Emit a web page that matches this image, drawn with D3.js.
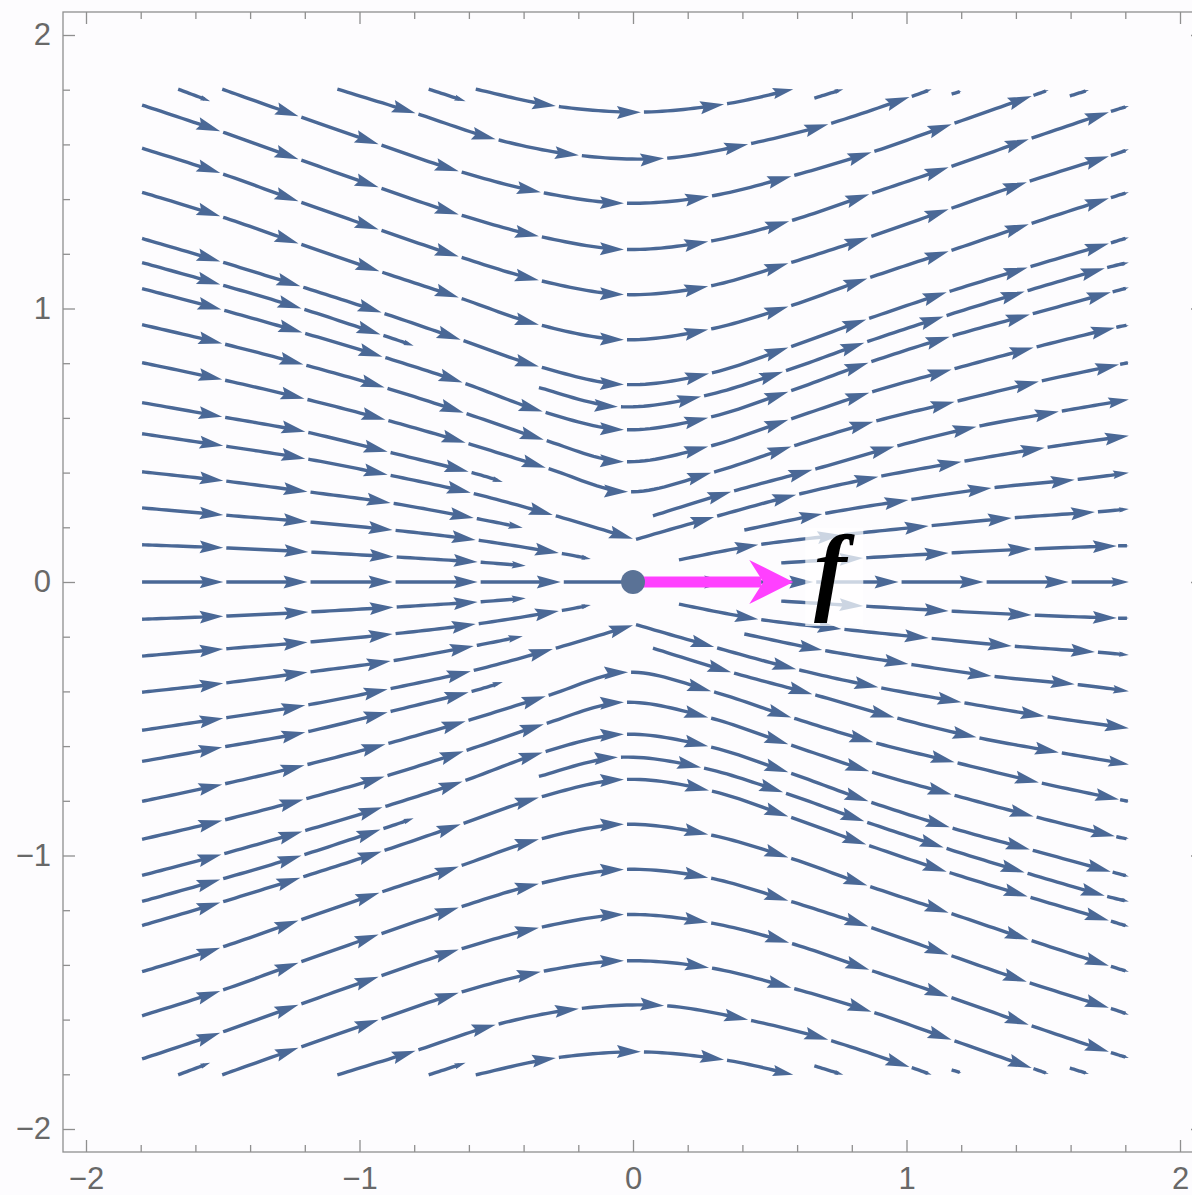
<!DOCTYPE html>
<html>
<head>
<meta charset="utf-8">
<script src="https://cdn.jsdelivr.net/npm/d3@7"></script>
<style>
  html, body { margin: 0; padding: 0; background: #fdfcfe; }
  svg { display: block; }
</style>
</head>
<body>
<div id="chart"></div>
<script>
// --- Data ---
const xTicks = [-2, -1, 0, 1, 2];
const yTicks = [-2, -1, 0, 1, 2];
const tickLabels = ['\u22122', '\u22121', '0', '1', '2'];

// Streamlines as [x, y]: start point, every arrow tip along the line, end point
const upperStreams = [
  [[-1.663, 1.802], [-1.546, 1.758]],
  [[-1.502, 1.802], [-1.223, 1.703], [-0.930, 1.601], [-0.637, 1.502], [-0.337, 1.425], [-0.033, 1.385], [0.278, 1.410], [0.579, 1.484], [0.872, 1.571], [1.165, 1.674], [1.458, 1.777], [1.520, 1.799]],
  [[-1.081, 1.802], [-0.795, 1.714], [-0.502, 1.619], [-0.198, 1.560], [0.114, 1.549], [0.421, 1.601], [0.714, 1.674], [1.011, 1.773], [1.092, 1.802]],
  [[-0.747, 1.802], [-0.612, 1.758]],
  [[-0.575, 1.802], [-0.282, 1.740], [0.029, 1.718], [0.333, 1.747], [0.586, 1.802]],
  [[0.663, 1.769], [0.769, 1.802]],
  [[1.165, 1.784], [1.201, 1.795]],
  [[1.597, 1.777], [1.667, 1.799]],
  [[-1.795, 1.744], [-1.509, 1.648], [-1.223, 1.546], [-0.930, 1.443], [-0.637, 1.344], [-0.344, 1.264], [-0.033, 1.216], [0.275, 1.245], [0.571, 1.319], [0.864, 1.418], [1.154, 1.516], [1.447, 1.619], [1.740, 1.718], [1.813, 1.740]],
  [[-1.795, 1.586], [-1.509, 1.495], [-1.223, 1.392], [-0.930, 1.289], [-0.637, 1.190], [-0.344, 1.103], [-0.033, 1.051], [0.275, 1.081], [0.568, 1.165], [0.861, 1.260], [1.154, 1.363], [1.440, 1.462], [1.740, 1.557], [1.813, 1.582]],
  [[-1.795, 1.425], [-1.509, 1.337], [-1.223, 1.238], [-0.927, 1.136], [-0.637, 1.040], [-0.344, 0.941], [-0.033, 0.886], [0.275, 0.923], [0.568, 1.007], [0.857, 1.110], [1.154, 1.209], [1.447, 1.308], [1.740, 1.403], [1.813, 1.425]],
  [[-1.795, 1.256], [-1.509, 1.172], [-1.216, 1.081], [-0.919, 0.985], [-0.630, 0.886], [-0.344, 0.788], [-0.033, 0.722], [0.278, 0.762], [0.568, 0.857], [0.853, 0.960], [1.147, 1.059], [1.443, 1.150], [1.740, 1.238], [1.813, 1.260]],
  [[-1.795, 1.168], [-1.509, 1.088], [-1.212, 1.000], [-0.923, 0.905], [-0.802, 0.864]],
  [[-0.344, 0.711], [-0.055, 0.641], [0.249, 0.678], [0.549, 0.769], [0.846, 0.875], [1.136, 0.971], [1.432, 1.062], [1.725, 1.147], [1.813, 1.168]],
  [[-1.795, 1.073], [-1.505, 0.996], [-1.209, 0.912], [-0.916, 0.824], [-0.623, 0.729], [-0.330, 0.623], [-0.033, 0.557], [0.275, 0.601], [0.568, 0.696], [0.861, 0.802], [1.158, 0.897], [1.451, 0.978], [1.747, 1.059], [1.813, 1.077]],
  [[-1.795, 0.941], [-1.502, 0.872], [-1.205, 0.795], [-0.908, 0.711], [-0.619, 0.619], [-0.326, 0.520], [-0.033, 0.440], [0.275, 0.495], [0.568, 0.593], [0.864, 0.692], [1.165, 0.777], [1.465, 0.857], [1.762, 0.930], [1.813, 0.938]],
  [[-1.795, 0.802], [-1.502, 0.740], [-1.201, 0.670], [-0.905, 0.593], [-0.612, 0.509], [-0.319, 0.418], [-0.018, 0.330], [0.286, 0.399], [0.579, 0.495], [0.879, 0.586], [1.176, 0.659], [1.484, 0.733], [1.777, 0.795], [1.813, 0.802]],
  [[-1.795, 0.656], [-1.502, 0.604], [-1.198, 0.549], [-0.897, 0.476], [-0.601, 0.403], [-0.476, 0.366]],
  [[-1.795, 0.542], [-1.498, 0.498], [-1.198, 0.451], [-0.897, 0.392], [-0.593, 0.326], [-0.293, 0.245], [0.000, 0.158]],
  [[0.011, 0.156], [0.297, 0.238], [0.597, 0.319], [0.897, 0.385], [1.201, 0.440], [1.505, 0.491], [1.813, 0.535]],
  [[-1.795, 0.403], [-1.498, 0.370], [-1.190, 0.330], [-0.886, 0.289], [-0.582, 0.234], [-0.403, 0.198]],
  [[-1.795, 0.271], [-1.498, 0.245], [-1.190, 0.220], [-0.879, 0.190], [-0.575, 0.154], [-0.271, 0.106], [-0.154, 0.084]],
  [[-1.795, 0.136], [-1.498, 0.125], [-1.187, 0.110], [-0.875, 0.092], [-0.568, 0.073], [-0.392, 0.059]],
  [[0.073, 0.242], [0.359, 0.330], [0.656, 0.410], [0.956, 0.495], [1.256, 0.568], [1.557, 0.623], [1.813, 0.667]],
  [[0.168, 0.081], [0.458, 0.136], [0.762, 0.172], [1.081, 0.205], [1.385, 0.234], [1.689, 0.256], [1.813, 0.267]],
  [[0.407, 0.190], [0.692, 0.249], [1.007, 0.300], [1.311, 0.344], [1.615, 0.374], [1.813, 0.399]],
  [[0.542, 0.070], [0.842, 0.088], [1.154, 0.106], [1.458, 0.121], [1.769, 0.132], [1.813, 0.132]]
];

const lowerStreams = [
  [[-1.663, -1.802], [-1.546, -1.758]],
  [[-1.502, -1.802], [-1.223, -1.703], [-0.930, -1.601], [-0.637, -1.502], [-0.337, -1.425], [-0.033, -1.385], [0.278, -1.410], [0.579, -1.484], [0.872, -1.571], [1.165, -1.674], [1.458, -1.777], [1.520, -1.799]],
  [[-1.081, -1.802], [-0.795, -1.714], [-0.502, -1.619], [-0.198, -1.560], [0.114, -1.549], [0.421, -1.601], [0.714, -1.674], [1.011, -1.773], [1.092, -1.802]],
  [[-0.747, -1.802], [-0.612, -1.758]],
  [[-0.575, -1.802], [-0.282, -1.740], [0.029, -1.718], [0.333, -1.747], [0.586, -1.802]],
  [[0.663, -1.769], [0.769, -1.802]],
  [[1.165, -1.784], [1.201, -1.795]],
  [[1.597, -1.777], [1.667, -1.799]],
  [[-1.795, -1.744], [-1.509, -1.648], [-1.223, -1.546], [-0.930, -1.443], [-0.637, -1.344], [-0.344, -1.264], [-0.033, -1.216], [0.275, -1.245], [0.571, -1.319], [0.864, -1.418], [1.154, -1.516], [1.447, -1.619], [1.740, -1.718], [1.813, -1.740]],
  [[-1.795, -1.586], [-1.509, -1.495], [-1.223, -1.392], [-0.930, -1.289], [-0.637, -1.190], [-0.344, -1.103], [-0.033, -1.051], [0.275, -1.081], [0.568, -1.165], [0.861, -1.260], [1.154, -1.363], [1.440, -1.462], [1.740, -1.557], [1.813, -1.582]],
  [[-1.795, -1.425], [-1.509, -1.337], [-1.223, -1.238], [-0.927, -1.136], [-0.637, -1.040], [-0.344, -0.941], [-0.033, -0.886], [0.275, -0.923], [0.568, -1.007], [0.857, -1.110], [1.154, -1.209], [1.447, -1.308], [1.740, -1.403], [1.813, -1.425]],
  [[-1.795, -1.256], [-1.509, -1.172], [-1.216, -1.081], [-0.919, -0.985], [-0.630, -0.886], [-0.344, -0.788], [-0.033, -0.722], [0.278, -0.762], [0.568, -0.857], [0.853, -0.960], [1.147, -1.059], [1.443, -1.150], [1.740, -1.238], [1.813, -1.260]],
  [[-1.795, -1.168], [-1.509, -1.088], [-1.212, -1.000], [-0.923, -0.905], [-0.802, -0.864]],
  [[-0.344, -0.711], [-0.055, -0.641], [0.249, -0.678], [0.549, -0.769], [0.846, -0.875], [1.136, -0.971], [1.432, -1.062], [1.725, -1.147], [1.813, -1.168]],
  [[-1.795, -1.073], [-1.505, -0.996], [-1.209, -0.912], [-0.916, -0.824], [-0.623, -0.729], [-0.330, -0.623], [-0.033, -0.557], [0.275, -0.601], [0.568, -0.696], [0.861, -0.802], [1.158, -0.897], [1.451, -0.978], [1.747, -1.059], [1.813, -1.077]],
  [[-1.795, -0.941], [-1.502, -0.872], [-1.205, -0.795], [-0.908, -0.711], [-0.619, -0.619], [-0.326, -0.520], [-0.033, -0.440], [0.275, -0.495], [0.568, -0.593], [0.864, -0.692], [1.165, -0.777], [1.465, -0.857], [1.762, -0.930], [1.813, -0.938]],
  [[-1.795, -0.802], [-1.502, -0.740], [-1.201, -0.670], [-0.905, -0.593], [-0.612, -0.509], [-0.319, -0.418], [-0.018, -0.330], [0.286, -0.399], [0.579, -0.495], [0.879, -0.586], [1.176, -0.659], [1.484, -0.733], [1.777, -0.795], [1.813, -0.802]],
  [[-1.795, -0.656], [-1.502, -0.604], [-1.198, -0.549], [-0.897, -0.476], [-0.601, -0.403], [-0.476, -0.366]],
  [[-1.795, -0.542], [-1.498, -0.498], [-1.198, -0.451], [-0.897, -0.392], [-0.593, -0.326], [-0.293, -0.245], [0.000, -0.158]],
  [[0.011, -0.156], [0.297, -0.238], [0.597, -0.319], [0.897, -0.385], [1.201, -0.440], [1.505, -0.491], [1.813, -0.535]],
  [[-1.795, -0.403], [-1.498, -0.370], [-1.190, -0.330], [-0.886, -0.289], [-0.582, -0.234], [-0.403, -0.198]],
  [[-1.795, -0.271], [-1.498, -0.245], [-1.190, -0.220], [-0.879, -0.190], [-0.575, -0.154], [-0.271, -0.106], [-0.154, -0.084]],
  [[-1.795, -0.136], [-1.498, -0.125], [-1.187, -0.110], [-0.875, -0.092], [-0.568, -0.073], [-0.392, -0.059]],
  [[0.073, -0.242], [0.359, -0.330], [0.656, -0.410], [0.956, -0.495], [1.256, -0.568], [1.557, -0.623], [1.813, -0.667]],
  [[0.168, -0.081], [0.458, -0.136], [0.762, -0.172], [1.081, -0.205], [1.385, -0.234], [1.689, -0.256], [1.813, -0.267]],
  [[0.407, -0.190], [0.692, -0.249], [1.007, -0.300], [1.311, -0.344], [1.615, -0.374], [1.813, -0.399]],
  [[0.542, -0.070], [0.842, -0.088], [1.154, -0.106], [1.458, -0.121], [1.769, -0.132], [1.813, -0.132]]
];

// the two halves of the y = 0 line; the left one runs into the point without a head
const axisStreams = [
  [[-1.795, 0], [-1.498, 0], [-1.190, 0], [-0.879, 0], [-0.568, 0], [-0.264, 0], [0, 0]],
  [[0.037, 0], [0.348, 0], [0.659, 0], [0.971, 0], [1.282, 0], [1.593, 0], [1.813, 0]]
];
const axisHeadAtEnd = [false, true];

const basePoint = [0, 0];
const fVector = [0.586, 0];
const fLabel = 'f';

// --- Layout ---
const W = 1192, H = 1195;
const frame = { left: 63, right: 1203, top: 12, bottom: 1152 };
const streamColor = '#4a6896';
const frameColor = '#8f8f8f';
const labelColor = '#686868';

const x = d3.scaleLinear().domain([-2, 2]).range([86, 1180]);
const y = d3.scaleLinear().domain([-2, 2]).range([1129, 35]);

const svg = d3.select('#chart').append('svg')
  .attr('width', W)
  .attr('height', H);

svg.append('rect').attr('width', W).attr('height', H).attr('fill', '#fdfcfe');

// --- Streamlines ---
function bez(p0, c1, c2, p1, t) {
  const u = 1 - t;
  return [
    u * u * u * p0[0] + 3 * u * u * t * c1[0] + 3 * u * t * t * c2[0] + t * t * t * p1[0],
    u * u * u * p0[1] + 3 * u * u * t * c1[1] + 3 * u * t * t * c2[1] + t * t * t * p1[1]
  ];
}

// part of a sampled polyline between arc lengths s0 and s1
function cut(pts, s0, s1) {
  const out = [];
  let acc = 0;
  for (let k = 0; k < pts.length - 1; k++) {
    const a = pts[k], b = pts[k + 1];
    const len = Math.hypot(b[0] - a[0], b[1] - a[1]);
    if (len > 0 && acc + len >= s0 && acc <= s1) {
      const t0 = Math.max(0, (s0 - acc) / len);
      const t1 = Math.min(1, (s1 - acc) / len);
      if (!out.length) out.push([a[0] + (b[0] - a[0]) * t0, a[1] + (b[1] - a[1]) * t0]);
      out.push([a[0] + (b[0] - a[0]) * t1, a[1] + (b[1] - a[1]) * t1]);
    }
    acc += len;
  }
  return out;
}

const lineGen = d3.line();
const gStreams = svg.append('g');

function drawStream(stream, headAtEnd = true) {
  const P = stream.map(d => [x(d[0]), y(d[1])]);
  const n = P.length;
  for (let i = 0; i < n - 1; i++) {
    const a = P[i], b = P[i + 1];
    const pa = P[Math.max(i - 1, 0)], pb = P[Math.min(i + 2, n - 1)];
    const c1 = [a[0] + (b[0] - pa[0]) / 6, a[1] + (b[1] - pa[1]) / 6];
    const c2 = [b[0] - (pb[0] - a[0]) / 6, b[1] - (pb[1] - a[1]) / 6];
    const pts = d3.range(17).map(k => bez(a, c1, c2, b, k / 16));
    const L = d3.sum(d3.pairs(pts), ([p, q]) => Math.hypot(q[0] - p[0], q[1] - p[1]));
    const head = !(i === n - 2 && !headAtEnd);
    const hl = Math.min(24, 0.29 * L);
    const s0 = i === 0 ? 0 : Math.min(3, L * 0.1);
    const s1 = head ? L - hl * 0.6 : L;

    gStreams.append('path')
      .attr('d', lineGen(cut(pts, s0, s1)))
      .attr('fill', 'none')
      .attr('stroke', streamColor)
      .attr('stroke-width', 3.4);

    if (head) {
      let dx = b[0] - c2[0], dy = b[1] - c2[1];
      let m = Math.hypot(dx, dy);
      if (m < 1e-6) { dx = b[0] - a[0]; dy = b[1] - a[1]; m = Math.hypot(dx, dy); }
      dx /= m; dy /= m;
      const hw = hl * 0.27;
      const bx = b[0] - dx * hl, by = b[1] - dy * hl;
      const poly = [
        b,
        [bx - dy * hw, by + dx * hw],
        [b[0] - dx * hl * 0.85, b[1] - dy * hl * 0.85],
        [bx + dy * hw, by - dx * hw]
      ];
      gStreams.append('path')
        .attr('d', 'M' + poly.join('L') + 'Z')
        .attr('fill', streamColor);
    }
  }
}

upperStreams.forEach(s => drawStream(s));
lowerStreams.forEach(s => drawStream(s));
axisStreams.forEach((s, i) => drawStream(s, axisHeadAtEnd[i]));

// --- Vector f at the base point ---
const ox = x(basePoint[0]), oy = y(basePoint[1]);
const tx = x(fVector[0]), ty = y(fVector[1]);
const magenta = '#ff40ff';

svg.append('line')
  .attr('x1', ox).attr('y1', oy)
  .attr('x2', tx - 32).attr('y2', ty)
  .attr('stroke', magenta)
  .attr('stroke-width', 11);

svg.append('path')
  .attr('d', `M${tx},${ty}L${tx - 44},${ty - 22}L${tx - 30},${ty}L${tx - 44},${ty + 22}Z`)
  .attr('fill', magenta);

svg.append('circle')
  .attr('cx', ox).attr('cy', oy)
  .attr('r', 12)
  .attr('fill', '#5a7296');

// label with a faded backdrop, as the streamlines fade behind it
const lx = x(fVector[0]) + 37;
svg.append('rect')
  .attr('x', lx - 25).attr('y', oy - 54)
  .attr('width', 58).attr('height', 98)
  .attr('fill', '#ffffff')
  .attr('opacity', 0.72);

svg.append('text')
  .attr('x', lx)
  .attr('y', oy + 20)
  .attr('text-anchor', 'middle')
  .attr('font-family', "'Liberation Serif', 'Times New Roman', serif")
  .attr('font-style', 'italic')
  .attr('font-weight', 'bold')
  .attr('font-size', 98)
  .attr('fill', '#000')
  .text(fLabel);

// --- Frame and ticks ---
const minorTicks = d3.range(-10, 11).filter(i => i % 5 !== 0).map(i => i / 5);

function styleAxis(g) {
  g.select('.domain').remove();
  g.selectAll('line').attr('stroke', frameColor).attr('stroke-width', 1.3);
  g.selectAll('text')
    .attr('fill', labelColor)
    .attr('font-family', "'Liberation Sans', Arial, sans-serif")
    .attr('font-size', 31);
}

function frameAxis(axisFn, pos, values, size, labels) {
  const vertical = axisFn === d3.axisLeft || axisFn === d3.axisRight;
  const ax = axisFn(vertical ? y : x)
    .tickValues(values)
    .tickSizeInner(-size)
    .tickSizeOuter(0)
    .tickPadding(labels ? (axisFn === d3.axisBottom ? 15 : 12) : 0)
    .tickFormat(labels ? (d, i) => tickLabels[i] : '');
  const t = vertical ? `translate(${pos},0)` : `translate(0,${pos})`;
  svg.append('g').attr('transform', t).call(ax).call(styleAxis);
}

frameAxis(d3.axisLeft, frame.left, yTicks, 12, true);
frameAxis(d3.axisLeft, frame.left, minorTicks, 7, false);
frameAxis(d3.axisBottom, frame.bottom, xTicks, 12, true);
frameAxis(d3.axisBottom, frame.bottom, minorTicks, 7, false);
frameAxis(d3.axisTop, frame.top, xTicks, 12, false);
frameAxis(d3.axisTop, frame.top, minorTicks, 7, false);
frameAxis(d3.axisRight, frame.right, yTicks, 12, false);
frameAxis(d3.axisRight, frame.right, minorTicks, 7, false);

svg.append('rect')
  .attr('x', frame.left).attr('y', frame.top)
  .attr('width', frame.right - frame.left)
  .attr('height', frame.bottom - frame.top)
  .attr('fill', 'none')
  .attr('stroke', frameColor)
  .attr('stroke-width', 1.3);
</script>
</body>
</html>
